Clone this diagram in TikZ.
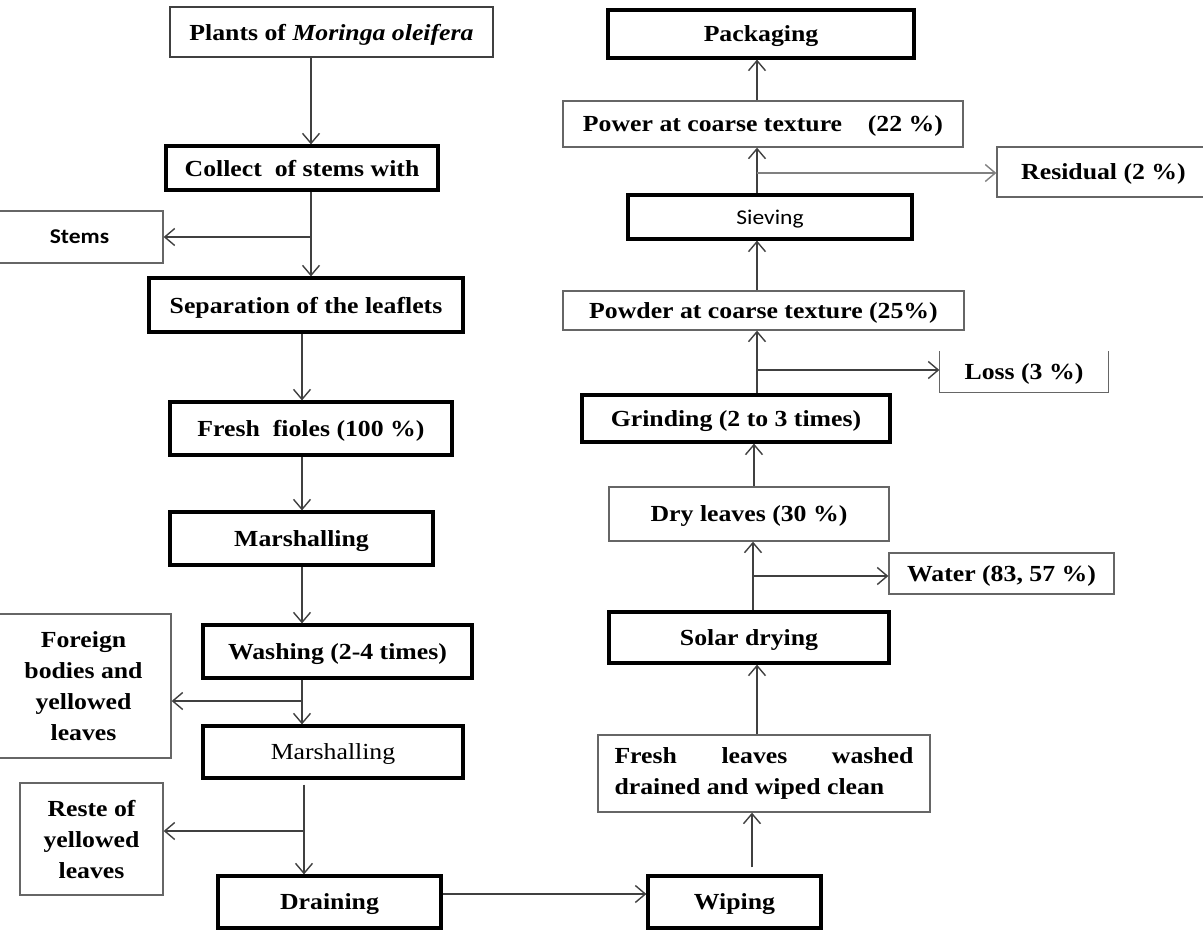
\documentclass[tikz,border=0pt]{standalone}
\usepackage{fontspec}
\setmainfont{Liberation Serif}[FakeStretch = 1.12]
\newfontfamily\stemfont{Carlito}[FakeStretch = 1.12]
\usepackage{tikz}
\usetikzlibrary{arrows.meta}

\begin{document}
\begin{tikzpicture}
  [
    x = 1pt, y = -1pt,  % pixel grid, origin top left
    every node/.style = {rectangle, inner sep = 0pt, text depth = 0pt,
      font = \fontsize{23}{31}\selectfont\bfseries},
    boxsize/.style 2 args = {minimum width = #1, minimum height = #2},
    mainbox/.style = {draw = black, line width = 3.2pt},
    sidebox/.style = {draw = black!60, line width = 1.3pt},
    plainfont/.style = {font = \fontsize{23}{31}\selectfont},
    sansfont/.style = {font = \fontsize{21}{25}\selectfont\stemfont},
    sansbold/.style = {font = \fontsize{21}{25}\selectfont\stemfont\bfseries},
    flowline/.style = {draw = black!75, line width = 1.4pt,
      -{Straight Barb[length = 10pt, width = 17pt]}}
  ]
  \useasboundingbox (0,0) rectangle (1203,930);

  % left column, top to bottom
  \node[sidebox, draw = black!75, boxsize = {323}{50}] (plants) at (331.5,32)
    {Plants of \textit{Moringa oleifera}};
  \node[mainbox, boxsize = {272}{44}] (collect) at (302,168) {Collect\ \ of stems with};
  \node[sidebox, sansbold, boxsize = {167}{52}] (stems) at (79.5,237) {Stems};
  \node[mainbox, boxsize = {314}{54}] (separation) at (306,305) {Separation of the leaflets};
  \node[mainbox, boxsize = {282}{53}] (fioles) at (311,428.5) {Fresh\ \ fioles (100 \%)};
  \node[mainbox, boxsize = {263}{53}] (marsh1) at (301.5,538.5) {Marshalling};
  \node[mainbox, boxsize = {269}{53}] (washing) at (337.5,651.5) {Washing (2-4 times)};
  \node[sidebox, align = center, boxsize = {175}{144}] (foreign) at (83.5,686)
    {Foreign\\bodies and\\yellowed\\leaves};
  \node[mainbox, plainfont, boxsize = {260}{52}] (marsh2) at (333,752) {Marshalling};
  \node[sidebox, align = center, boxsize = {143}{112}] (reste) at (91.5,839)
    {Reste of\\yellowed\\leaves};
  \node[mainbox, boxsize = {223}{52}] (draining) at (329.5,902) {Draining};

  % right column, bottom to top
  \node[mainbox, boxsize = {173}{52}] (wiping) at (734.5,902) {Wiping};
  \node[sidebox, text depth = {}, text width = 299, align = justify, boxsize = {332}{77}]
    (freshleaves) at (764,773.5) {Fresh leaves washed\linebreak drained and wiped clean};
  \node[mainbox, boxsize = {280}{51}] (solar) at (749,637.5) {Solar drying};
  \node[sidebox, boxsize = {225}{41}] (water) at (1001.5,573.5) {Water (83, 57 \%)};
  \node[sidebox, boxsize = {280}{54}] (dry) at (749,514) {Dry leaves (30 \%)};
  \node[mainbox, boxsize = {308}{47}] (grinding) at (736,418.5) {Grinding (2 to 3 times)};
  \node[sidebox, draw = none, boxsize = {168}{40}] (loss) at (1024,372) {Loss (3 \%)};
  \node[sidebox, boxsize = {401}{39}] (powder) at (763.5,310.5) {Powder at coarse texture (25\%)};
  \node[mainbox, sansfont, boxsize = {284}{44}] (sieving) at (770,217) {Sieving};
  \node[sidebox, boxsize = {213}{50}] (residual) at (1103.5,172) {Residual (2 \%)};
  \node[sidebox, boxsize = {400}{46}] (power) at (763,124)
    {Power at coarse texture\ \ \ \ (22 \%)};
  \node[mainbox, boxsize = {306}{48}] (packaging) at (761,34) {Packaging};

  % open top of the loss box
  \draw[black!60, line width = 1.3pt] (loss.north west) |- (loss.south east) -- (loss.north east);

  % where the arrows run and branch off
  \coordinate (stemsfork) at (311,237);
  \coordinate (leftcol) at (302,0);
  \coordinate (foreignfork) at (302,701);
  \coordinate (restefork) at (304,831);
  \coordinate (drainexit) at (0,894);
  \coordinate (wipecol) at (752,0);
  \coordinate (rightcol) at (757,0);
  \coordinate (waterfork) at (753,576);
  \coordinate (drycol) at (754,0);
  \coordinate (lossfork) at (757,370);
  \coordinate (residualfork) at (757,173);

  \draw[flowline] (plants.south -| stemsfork) -- (collect.north -| stemsfork);
  \draw[flowline] (collect.south -| stemsfork) -- (separation.north -| stemsfork);
  \draw[flowline] (stemsfork) -- (stems.east |- stemsfork);
  \draw[flowline] (separation.south -| leftcol) -- (fioles.north -| leftcol);
  \draw[flowline] (fioles.south -| leftcol) -- (marsh1.north -| leftcol);
  \draw[flowline] (marsh1.south -| leftcol) -- (washing.north -| leftcol);
  \draw[flowline] (washing.south -| foreignfork) -- (marsh2.north -| foreignfork);
  \draw[flowline] (foreignfork) -- (foreign.east |- foreignfork);
  \draw[flowline] ([yshift = -5pt]marsh2.south -| restefork) -- (draining.north -| restefork);
  \draw[flowline] (restefork) -- (reste.east |- restefork);
  \draw[flowline] (draining.east |- drainexit) -- (wiping.west |- drainexit);

  \draw[flowline] ([yshift = 7pt]wiping.north -| wipecol) -- (freshleaves.south -| wipecol);
  \draw[flowline] (freshleaves.north -| rightcol) -- (solar.south -| rightcol);
  \draw[flowline] (solar.north -| waterfork) -- (dry.south -| waterfork);
  \draw[flowline] (waterfork) -- (water.west |- waterfork);
  \draw[flowline] (dry.north -| drycol) -- (grinding.south -| drycol);
  \draw[flowline] (grinding.north -| lossfork) -- (powder.south -| lossfork);
  \draw[flowline] (lossfork) -- (loss.west |- lossfork);
  \draw[flowline] (powder.north -| rightcol) -- (sieving.south -| rightcol);
  \draw[flowline] (sieving.north -| residualfork) -- (power.south -| residualfork);
  \draw[flowline, draw = black!50] (residualfork) -- (residual.west |- residualfork);
  \draw[flowline] (power.north -| rightcol) -- (packaging.south -| rightcol);
\end{tikzpicture}
\end{document}
